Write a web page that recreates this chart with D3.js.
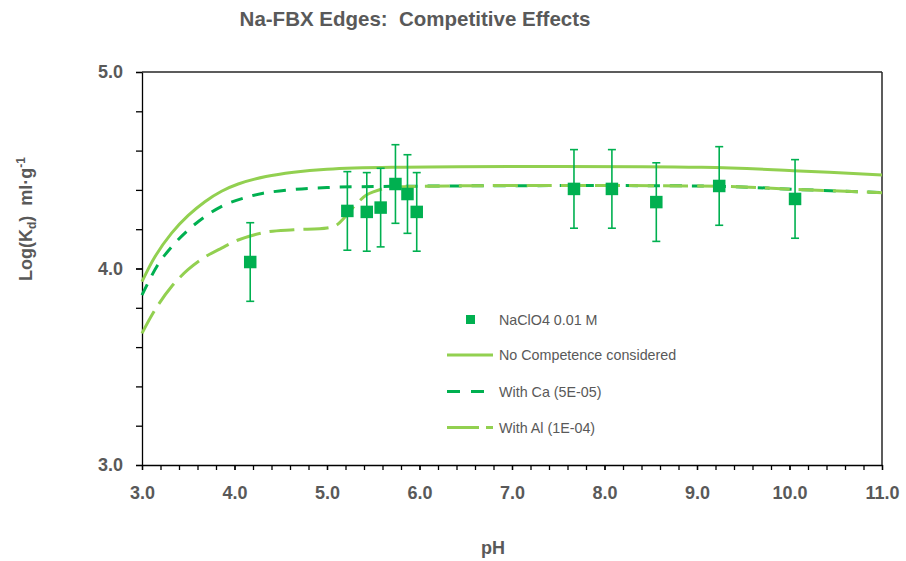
<!DOCTYPE html>
<html>
<head>
<meta charset="utf-8">
<script src="https://cdn.jsdelivr.net/npm/d3@7/dist/d3.min.js"></script>
<style>
  html, body { margin: 0; padding: 0; background: #fff; }
  svg { display: block; font-family: "Liberation Sans", Arial, sans-serif; }
  svg text { white-space: pre; }
</style>
</head>
<body>
<svg id="chart" width="906" height="561"></svg>
<script>
// ---- data ----
const titleText = "Na-FBX Edges:  Competitive Effects";
const xTickLabels = [3, 4, 5, 6, 7, 8, 9, 10, 11];
const yTickLabels = [3, 4, 5];

// measured points (NaClO4 0.01 M)
const pointPH   = [4.17, 5.22, 5.43, 5.58, 5.74, 5.87, 5.97, 7.67, 8.08, 8.56, 9.24, 10.06];
const pointLogK = [4.033, 4.293, 4.288, 4.31, 4.43, 4.379, 4.288, 4.405, 4.405, 4.338, 4.42, 4.354];
const pointErr  = [0.2, 0.2, 0.2, 0.2, 0.2, 0.2, 0.2, 0.2, 0.2, 0.2, 0.2, 0.2];

// No competence considered
const noCompPH   = [3.0, 3.14, 3.32, 3.5, 3.68, 3.86, 4.04, 4.34, 4.64, 5.0, 5.7, 9.05, 10.04, 11.0];
const noCompLogK = [3.933, 4.06, 4.18, 4.27, 4.34, 4.393, 4.43, 4.468, 4.49, 4.505, 4.515, 4.515, 4.498, 4.476];

// With Ca (5E-05)
const caPH   = [3.0, 3.17, 3.32, 3.5, 3.68, 3.89, 4.11, 4.31, 4.64, 5.0, 5.7, 9.25, 10.04, 11.0];
const caLogK = [3.865, 4.018, 4.11, 4.196, 4.264, 4.323, 4.36, 4.383, 4.402, 4.412, 4.418, 4.418, 4.403, 4.386];

// With Al (1E-04)
const alPH   = [3.0, 3.14, 3.32, 3.5, 3.68, 3.86, 4.04, 4.34, 4.64, 5.0, 5.1, 5.21, 5.32, 5.43, 5.5, 5.65, 6.0, 9.25, 10.04, 11.0];
const alLogK = [3.67, 3.789, 3.908, 3.995, 4.058, 4.104, 4.145, 4.185, 4.197, 4.206, 4.22, 4.27, 4.33, 4.375, 4.39, 4.41, 4.418, 4.418, 4.403, 4.386];

const legendLabels = ["NaClO4 0.01 M", "No Competence considered", "With Ca (5E-05)", "With Al (1E-04)"];

// ---- drawing ----
const svg = d3.select("#chart");
const gray = "#595959";
const darkGreen = "#00B050";
const lightGreen = "#92D050";

const x = d3.scaleLinear().domain([3, 11]).range([142, 882]);
const y = d3.scaleLinear().domain([3, 5]).range([465, 72]);

// title
svg.append("text")
  .attr("x", 415).attr("y", 26)
  .attr("text-anchor", "middle")
  .attr("font-size", "20.5px").attr("font-weight", "bold")
  .attr("fill", gray)
  .text(titleText);

// plot border (top and right)
svg.append("line").attr("x1", x(3)).attr("x2", x(11)).attr("y1", y(5)).attr("y2", y(5))
  .attr("stroke", "#262626").attr("stroke-width", 1.5);
svg.append("line").attr("x1", x(11)).attr("x2", x(11)).attr("y1", y(5)).attr("y2", y(3))
  .attr("stroke", "#262626").attr("stroke-width", 1.5);

// x axis: minor ticks every 0.2
const xMinor = d3.range(0, 41).map(i => 3 + i * 0.2);
const xAxisMinor = svg.append("g").attr("transform", `translate(0,${y(3)})`)
  .call(d3.axisBottom(x).tickValues(xMinor).tickSize(5).tickSizeOuter(0).tickFormat(""));
const xAxisMajor = svg.append("g").attr("transform", `translate(0,${y(3)})`)
  .call(d3.axisBottom(x).tickValues(xTickLabels).tickSize(5).tickSizeOuter(0).tickPadding(16)
    .tickFormat(d3.format(".1f")));
xAxisMajor.select(".domain").remove();

// y axis
const yMinor = d3.range(0, 11).map(i => 3 + i * 0.2);
const yAxisMinor = svg.append("g").attr("transform", `translate(${x(3)},0)`)
  .call(d3.axisLeft(y).tickValues(yMinor).tickSize(6).tickSizeOuter(0).tickFormat(""));
const yAxisMajor = svg.append("g").attr("transform", `translate(${x(3)},0)`)
  .call(d3.axisLeft(y).tickValues(yTickLabels).tickSize(6).tickSizeOuter(0).tickPadding(13)
    .tickFormat(d3.format(".1f")));
yAxisMajor.select(".domain").remove();

svg.selectAll(".domain, .tick line").attr("stroke", "#000").attr("stroke-width", 1.3);
[xAxisMajor, yAxisMajor].forEach(g => g.selectAll("text")
  .attr("font-family", "'Liberation Sans', Arial, sans-serif")
  .attr("font-size", "18px").attr("font-weight", "bold").attr("fill", gray));

// axis titles
svg.append("text")
  .attr("x", 493).attr("y", 554)
  .attr("text-anchor", "middle")
  .attr("font-size", "18px").attr("font-weight", "bold").attr("fill", gray)
  .text("pH");

const yTitle = svg.append("text")
  .attr("transform", "translate(32,219) rotate(-90)")
  .attr("text-anchor", "middle")
  .attr("font-size", "18px").attr("font-weight", "bold").attr("fill", gray);
yTitle.append("tspan").text("Log(K");
yTitle.append("tspan").attr("font-size", "12px").attr("dy", 4).text("d");
yTitle.append("tspan").attr("dy", -4).text(")  ml·g");
yTitle.append("tspan").attr("font-size", "12px").attr("dy", -7).text("-1");

// curves
const line = d3.line().x(d => x(d[0])).y(d => y(d[1])).curve(d3.curveCatmullRom.alpha(0.5));
const plot = svg.append("g");

plot.append("path").datum(d3.zip(noCompPH, noCompLogK))
  .attr("d", line).attr("fill", "none").attr("stroke", lightGreen).attr("stroke-width", 3);
plot.append("path").datum(d3.zip(caPH, caLogK))
  .attr("d", line).attr("fill", "none").attr("stroke", darkGreen).attr("stroke-width", 3)
  .attr("stroke-dasharray", "12,10");
plot.append("path").datum(d3.zip(alPH, alLogK))
  .attr("d", line).attr("fill", "none").attr("stroke", lightGreen).attr("stroke-width", 3)
  .attr("stroke-dasharray", "25,9");

// error bars and points
const pts = d3.zip(pointPH, pointLogK, pointErr);
const eb = plot.append("g").selectAll("g").data(pts).join("g")
  .attr("stroke", darkGreen).attr("stroke-width", 1.6);
eb.append("line").attr("x1", d => x(d[0])).attr("x2", d => x(d[0]))
  .attr("y1", d => y(d[1] + d[2])).attr("y2", d => y(d[1] - d[2]));
eb.append("line").attr("x1", d => x(d[0]) - 4).attr("x2", d => x(d[0]) + 4)
  .attr("y1", d => y(d[1] + d[2])).attr("y2", d => y(d[1] + d[2]));
eb.append("line").attr("x1", d => x(d[0]) - 4).attr("x2", d => x(d[0]) + 4)
  .attr("y1", d => y(d[1] - d[2])).attr("y2", d => y(d[1] - d[2]));

const ms = 12.5;
plot.append("g").selectAll("rect").data(pts).join("rect")
  .attr("x", d => x(d[0]) - ms / 2).attr("y", d => y(d[1]) - ms / 2)
  .attr("width", ms).attr("height", ms).attr("fill", darkGreen);

// legend
const legend = svg.append("g").attr("font-size", "14.3px").attr("fill", gray);
const legY = [319.5, 355, 391.5, 427.5];
legend.append("rect").attr("x", 466).attr("y", legY[0] - 4.5).attr("width", 9).attr("height", 9).attr("fill", darkGreen);
legend.append("line").attr("x1", 447).attr("x2", 493).attr("y1", legY[1]).attr("y2", legY[1])
  .attr("stroke", lightGreen).attr("stroke-width", 3);
legend.append("line").attr("x1", 447).attr("x2", 493).attr("y1", legY[2]).attr("y2", legY[2])
  .attr("stroke", darkGreen).attr("stroke-width", 3).attr("stroke-dasharray", "13,11");
legend.append("line").attr("x1", 447).attr("x2", 493).attr("y1", legY[3]).attr("y2", legY[3])
  .attr("stroke", lightGreen).attr("stroke-width", 3).attr("stroke-dasharray", "32,7");
legend.selectAll("text").data(legendLabels).join("text")
  .attr("x", 499).attr("y", (d, i) => legY[i] + 5)
  .attr("fill", gray)
  .text(d => d);
</script>
</body>
</html>
